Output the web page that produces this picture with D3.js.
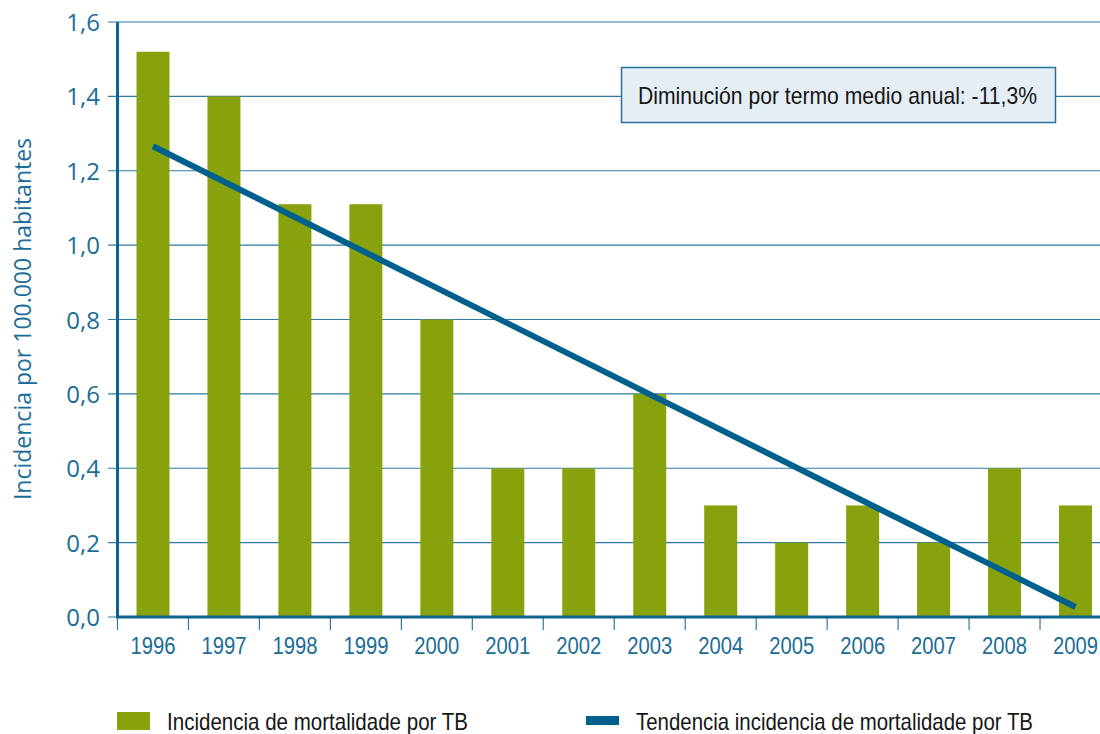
<!DOCTYPE html>
<html>
<head>
<meta charset="utf-8">
<script src="https://cdn.jsdelivr.net/npm/d3@7"></script>
<style>
  body { margin: 0; background: #fff; }
  .narrow { font-family: "Liberation Sans", Arial, sans-serif; }
</style>
</head>
<body>
<script>
// chart data
var years = ['1996', '1997', '1998', '1999', '2000', '2001', '2002', '2003', '2004', '2005', '2006', '2007', '2008', '2009'];
var mortality = [1.52, 1.40, 1.11, 1.11, 0.80, 0.40, 0.40, 0.60, 0.30, 0.20, 0.30, 0.20, 0.40, 0.30];
// straight trend line: its two end points
var trendYears = ['1996', '2009'];
var trend = [1.266, 0.027];
var yTicks = [0, 0.2, 0.4, 0.6, 0.8, 1.0, 1.2, 1.4, 1.6];
var legendLabels = ['Incidencia de mortalidade por TB', 'Tendencia incidencia de mortalidade por TB'];
var yTitle = 'Incidencia por 100.000 habitantes';
var note = 'Diminución por termo medio anual: -11,3%';

var blue = '#0b6390',
    textBlue = '#1b6c97',
    green = '#87a20c';

var svg = d3.select('body')
            .append('svg')
            .attr('width', 1100)
            .attr('height', 734);

var plotLeft = 117.5, plotRight = 1111, plotTop = 22, plotBottom = 617;

var x = d3.scaleBand()
          .domain(years)
          .range([plotLeft, plotRight])
          .paddingInner(0.535)
          .paddingOuter(0.2675);

var y = d3.scaleLinear()
          .domain([0, 1.6])
          .range([plotBottom, plotTop]);

var comma = d3.formatLocale({decimal: ',', thousands: '.', grouping: [3], currency: ['', '€']}).format('.1f');

// gridlines
svg.append('g')
   .selectAll('line')
   .data(yTicks)
   .enter()
   .append('line')
   .attr('x1', 108)
   .attr('x2', 1100)
   .attr('y1', d => y(d))
   .attr('y2', d => y(d))
   .attr('stroke', '#2f7aa4')
   .attr('stroke-width', 1.2);

// y tick labels
svg.append('g')
   .selectAll('text')
   .data(yTicks)
   .enter()
   .append('text')
   .attr('x', 100)
   .attr('y', d => y(d) + 9)
   .attr('text-anchor', 'end')
   .style('font-family', '"Open Sans", sans-serif')
   .style('font-size', '24px')
   .attr('fill', textBlue)
   .text(d => comma(d));

// y title
svg.append('text')
   .attr('transform', 'translate(31,' + 319 + ') rotate(-90)')
   .attr('text-anchor', 'middle')
   .style('font-family', '"Open Sans", sans-serif')
   .style('font-size', '23px')
   .attr('fill', textBlue)
   .text(yTitle);

// note box (sits over the gridline)
var box = svg.append('g');
box.append('rect')
   .attr('x', 621.5)
   .attr('y', 67.5)
   .attr('width', 434)
   .attr('height', 55)
   .attr('fill', '#e5eef4')
   .attr('stroke', '#2b6f99')
   .attr('stroke-width', 1.5);
box.append('text')
   .attr('class', 'narrow')
   .attr('x', 638)
   .attr('y', 104)
   .attr('textLength', 399)
   .attr('lengthAdjust', 'spacingAndGlyphs')
   .style('font-size', '24px')
   .attr('fill', '#161616')
   .text(note);

// bars
svg.append('g')
   .selectAll('rect')
   .data(mortality)
   .enter()
   .append('rect')
   .attr('x', (d, i) => x(years[i]))
   .attr('y', d => y(d))
   .attr('width', x.bandwidth())
   .attr('height', d => plotBottom - y(d))
   .attr('fill', green);

// trend line
var line = d3.line()
             .x((d, i) => x(trendYears[i]) + x.bandwidth() / 2)
             .y(d => y(d));

svg.append('path')
   .datum(trend)
   .attr('d', line)
   .attr('fill', 'none')
   .attr('stroke', '#00608d')
   .attr('stroke-width', 6);

// x ticks at band edges
var step = x.step();
svg.append('g')
   .selectAll('line')
   .data(years)
   .enter()
   .append('line')
   .attr('x1', d => x(d) + x.bandwidth() / 2 - step / 2)
   .attr('x2', d => x(d) + x.bandwidth() / 2 - step / 2)
   .attr('y1', plotBottom)
   .attr('y2', 630)
   .attr('stroke', '#2f7aa4')
   .attr('stroke-width', 1.2);

svg.append('g')
   .selectAll('text')
   .data(years)
   .enter()
   .append('text')
   .attr('class', 'narrow')
   .attr('x', d => x(d) + x.bandwidth() / 2 - 22.5)
   .attr('y', 654)
   .attr('textLength', 45)
   .attr('lengthAdjust', 'spacingAndGlyphs')
   .style('font-size', '24px')
   .attr('fill', textBlue)
   .text(d => d);

// axis lines
svg.append('line')
   .attr('x1', plotLeft).attr('x2', plotLeft)
   .attr('y1', plotTop).attr('y2', plotBottom + 1)
   .attr('stroke', blue)
   .attr('stroke-width', 3);
svg.append('line')
   .attr('x1', plotLeft - 1.5).attr('x2', 1100)
   .attr('y1', plotBottom).attr('y2', plotBottom)
   .attr('stroke', blue)
   .attr('stroke-width', 3);

// legend
var legendX = [167, 636], legendW = [301, 397];
var legend = svg.append('g');
legend.append('rect')
      .attr('x', 117).attr('y', 712)
      .attr('width', 33).attr('height', 18)
      .attr('fill', green);
legend.append('rect')
      .attr('x', 586).attr('y', 716)
      .attr('width', 33).attr('height', 9)
      .attr('fill', '#00608d');
legend.selectAll('text')
      .data(legendLabels)
      .enter()
      .append('text')
      .attr('class', 'narrow')
      .attr('x', (d, i) => legendX[i])
      .attr('y', 730)
      .attr('textLength', (d, i) => legendW[i])
      .attr('lengthAdjust', 'spacingAndGlyphs')
      .style('font-size', '24px')
      .attr('fill', '#161616')
      .text(d => d);
</script>
</body>
</html>
